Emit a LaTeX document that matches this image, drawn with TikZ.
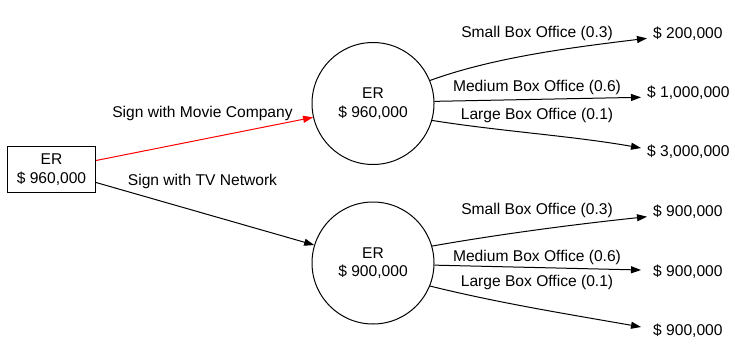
\documentclass[tikz,border=0pt]{standalone}
\usepackage{fontspec}
\setmainfont{Liberation Sans}
\usetikzlibrary{arrows.meta}
\begin{document}
\begin{tikzpicture}[x=1pt,y=1pt,
  every node/.style={font=\fontsize{15.6}{18.5}\selectfont},
  box/.style={draw,line width=1pt,minimum width=88pt,minimum height=46pt,inner sep=0pt,align=center},
  chance/.style={draw,circle,line width=1pt,minimum size=122pt,inner sep=0pt,align=center},
  leaf/.style={anchor=base west,inner xsep=6pt,inner ysep=0pt},
  lbl/.style={anchor=base,inner sep=0pt},
  edge/.style={line width=1pt,-{Triangle[length=10pt,width=7pt]}}
]
\useasboundingbox (0,0) rectangle (735,-345);
\node[box] (root) at (51.5,-169.5) {ER\\\$ 960,000};
\node[chance] (c1) at (373,-103.5) {ER\\\$ 960,000};
\node[chance] (c2) at (373,-263) {ER\\\$ 900,000};
\node[leaf] (l1) at (647,-38.3) {\$ 200,000};
\node[leaf] (l2) at (641,-97.3) {\$ 1,000,000};
\node[leaf] (l3) at (641,-156.7) {\$ 3,000,000};
\node[leaf] (l4) at (647,-216.7) {\$ 900,000};
\node[leaf] (l5) at (647,-276) {\$ 900,000};
\node[leaf] (l6) at (647,-335) {\$ 900,000};
\node[lbl] (t1) at (202.5,-117.3) {Sign with Movie Company};
\node[lbl] (t2) at (202.5,-185) {Sign with TV Network};
\node[lbl] (s1) at (537,-37.3) {Small Box Office (0.3)};
\node[lbl] (m1) at (537,-91) {Medium Box Office (0.6)};
\node[lbl] (g1) at (537,-119) {Large Box Office (0.1)};
\node[lbl] (s2) at (537,-214) {Small Box Office (0.3)};
\node[lbl] (m2) at (537,-261) {Medium Box Office (0.6)};
\node[lbl] (g2) at (537,-286.7) {Large Box Office (0.1)};
\draw[edge,red] ([yshift=9pt]root.east) -- (c1.193);
\draw[edge] ([yshift=-13pt]root.east) -- (c2.163);
\draw[edge] (c1.22) .. controls +(20:70) and +(187:70) .. (l1.base west);
\draw[edge] (c1.2) -- (l2.base west);
\draw[edge] (c1.-16) .. controls +(-9:70) and +(170:70) .. ([yshift=8.7pt]l3.base west);
\draw[edge] (c2.16) .. controls +(10:70) and +(186:70) .. (l4.base west);
\draw[edge] (c2.-2) -- ([yshift=6pt,xshift=-6pt]l5.base west);
\draw[edge] (c2.-22) .. controls +(-14:70) and +(170:70) .. ([yshift=8pt,xshift=-6pt]l6.base west);
\end{tikzpicture}
\end{document}
